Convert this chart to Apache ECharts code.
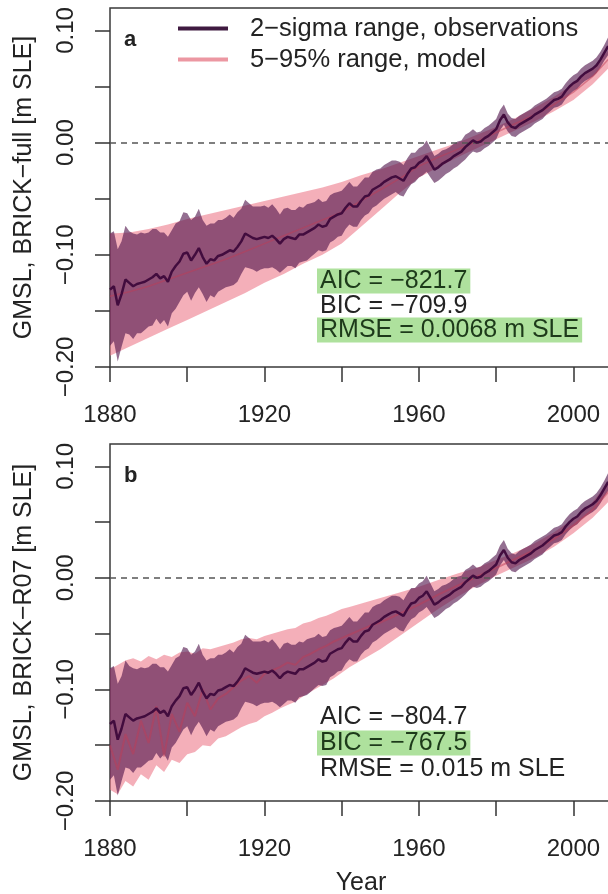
<!DOCTYPE html>
<html>
<head>
<meta charset="utf-8">
<title>GMSL hindcasts, BRICK-full and BRICK-R07</title>
<script src="https://cdn.jsdelivr.net/npm/echarts@6/dist/echarts.min.js"></script>
<style>
  html, body { margin: 0; padding: 0; background: #fff; }
  #chart { width: 608px; height: 894px; }
</style>
</head>
<body>
<div id="chart"></div>
<script>
// observations, annual 1880-2009 [m SLE]
const startYear = 1880;
const obsMean = [
  -0.131, -0.128, -0.145, -0.135, -0.122, -0.125, -0.128, -0.126, -0.125, -0.124,
  -0.122, -0.120, -0.117, -0.121, -0.119, -0.124, -0.115, -0.110, -0.106, -0.099,
  -0.098, -0.105, -0.100, -0.094, -0.102, -0.108, -0.104, -0.105, -0.101, -0.100,
  -0.098, -0.096, -0.097, -0.093, -0.088, -0.081, -0.083, -0.085, -0.086, -0.085,
  -0.084, -0.085, -0.083, -0.086, -0.090, -0.086, -0.084, -0.085, -0.086, -0.082,
  -0.082, -0.080, -0.078, -0.076, -0.073, -0.075, -0.074, -0.068, -0.066, -0.064,
  -0.063, -0.058, -0.054, -0.057, -0.057, -0.052, -0.048, -0.047, -0.042, -0.040,
  -0.038, -0.035, -0.033, -0.031, -0.030, -0.032, -0.034, -0.028, -0.023, -0.022,
  -0.018, -0.016, -0.012, -0.018, -0.024, -0.022, -0.019, -0.017, -0.015, -0.012,
  -0.010, -0.008, -0.004, -0.001, 0.002, 0.000, 0.001, 0.004, 0.006, 0.009,
  0.012, 0.020, 0.025, 0.018, 0.014, 0.013, 0.016, 0.018, 0.020, 0.022,
  0.025, 0.027, 0.029, 0.032, 0.035, 0.038, 0.039, 0.041, 0.046, 0.050,
  0.053, 0.055, 0.059, 0.062, 0.064, 0.066, 0.069, 0.074, 0.080, 0.086
];
// 2-sigma half width of the observations
const obsErr = [
  0.050, 0.049, 0.050, 0.047, 0.048, 0.046, 0.047, 0.044, 0.045, 0.043,
  0.042, 0.043, 0.040, 0.041, 0.039, 0.040, 0.037, 0.038, 0.036, 0.037,
  0.035, 0.036, 0.034, 0.035, 0.033, 0.034, 0.032, 0.033, 0.032, 0.031,
  0.031, 0.032, 0.030, 0.031, 0.029, 0.030, 0.029, 0.028, 0.029, 0.028,
  0.028, 0.027, 0.028, 0.027, 0.026, 0.027, 0.026, 0.025, 0.026, 0.025,
  0.024, 0.025, 0.024, 0.023, 0.023, 0.022, 0.022, 0.021, 0.021, 0.020,
  0.020, 0.019, 0.019, 0.018, 0.018, 0.017, 0.017, 0.016, 0.016, 0.016,
  0.015, 0.015, 0.015, 0.015, 0.014, 0.015, 0.014, 0.014, 0.014, 0.013,
  0.013, 0.013, 0.014, 0.013, 0.012, 0.012, 0.012, 0.011, 0.011, 0.011,
  0.011, 0.010, 0.011, 0.010, 0.010, 0.009, 0.009, 0.009, 0.009, 0.009,
  0.009, 0.009, 0.009, 0.008, 0.008, 0.008, 0.008, 0.008, 0.008, 0.008,
  0.008, 0.008, 0.008, 0.007, 0.007, 0.007, 0.007, 0.007, 0.007, 0.007,
  0.007, 0.007, 0.007, 0.007, 0.007, 0.007, 0.007, 0.007, 0.007, 0.008
];

// BRICK-full model, 5-95% range and median
const modelAYears = [1880, 1885, 1890, 1895, 1900, 1905, 1910, 1915, 1920, 1925, 1930, 1935, 1940,
  1945, 1950, 1955, 1960, 1965, 1970, 1975, 1980, 1985, 1990, 1995, 2000, 2005, 2009];
const modelALo = [-0.190, -0.182, -0.174, -0.166, -0.158, -0.150, -0.142, -0.134, -0.125, -0.117, -0.108, -0.100, -0.090,
  -0.075, -0.060, -0.045, -0.031, -0.022, -0.013, -0.005, 0.003, 0.011, 0.019, 0.028, 0.038, 0.052, 0.066];
const modelAHi = [-0.081, -0.080, -0.077, -0.073, -0.068, -0.064, -0.060, -0.056, -0.052, -0.048, -0.044, -0.040, -0.035,
  -0.029, -0.024, -0.018, -0.012, -0.006, 0.000, 0.007, 0.014, 0.022, 0.031, 0.041, 0.052, 0.066, 0.082];
const modelAMed = [-0.137, -0.133, -0.128, -0.122, -0.116, -0.110, -0.104, -0.097, -0.090, -0.083, -0.076, -0.069, -0.062,
  -0.052, -0.042, -0.032, -0.021, -0.013, -0.006, 0.001, 0.009, 0.017, 0.025, 0.034, 0.045, 0.059, 0.074];

// BRICK-R07 model, 5-95% range and median
const modelBYears = [1880, 1882, 1884, 1886, 1888, 1890, 1892, 1894, 1896, 1898, 1900, 1902, 1904, 1906, 1908,
  1910, 1912, 1914, 1916, 1918, 1920, 1922, 1924, 1926, 1928, 1930, 1932, 1934, 1936, 1938, 1940, 1942, 1944,
  1946, 1948, 1950, 1955, 1960, 1965, 1970, 1975, 1980, 1985, 1990, 1995, 2000, 2005, 2009];
const modelBLo = [-0.190, -0.194, -0.182, -0.187, -0.176, -0.181, -0.168, -0.174, -0.163, -0.166, -0.158, -0.156, -0.150, -0.151, -0.144,
  -0.142, -0.138, -0.134, -0.131, -0.129, -0.124, -0.121, -0.117, -0.114, -0.111, -0.106, -0.102, -0.098, -0.094, -0.090, -0.085, -0.080, -0.076,
  -0.072, -0.068, -0.064, -0.052, -0.040, -0.028, -0.017, -0.007, 0.002, 0.010, 0.018, 0.028, 0.040, 0.054, 0.068];
const modelBHi = [-0.082, -0.078, -0.074, -0.072, -0.075, -0.070, -0.073, -0.069, -0.071, -0.067, -0.066, -0.068, -0.063, -0.064, -0.062,
  -0.060, -0.058, -0.055, -0.054, -0.055, -0.052, -0.050, -0.048, -0.046, -0.045, -0.041, -0.039, -0.036, -0.034, -0.031, -0.028, -0.026, -0.024,
  -0.022, -0.020, -0.018, -0.013, -0.008, -0.002, 0.004, 0.009, 0.016, 0.023, 0.031, 0.041, 0.053, 0.068, 0.086];
const modelBMed = [-0.150, -0.172, -0.140, -0.158, -0.128, -0.148, -0.115, -0.160, -0.122, -0.138, -0.112, -0.124, -0.100, -0.118, -0.108,
  -0.104, -0.098, -0.092, -0.088, -0.094, -0.086, -0.083, -0.080, -0.076, -0.078, -0.071, -0.068, -0.064, -0.061, -0.057, -0.054, -0.051, -0.048,
  -0.045, -0.042, -0.040, -0.032, -0.024, -0.015, -0.007, 0.001, 0.009, 0.017, 0.025, 0.035, 0.047, 0.061, 0.077];

const xTicks = [1880, 1900, 1920, 1940, 1960, 1980, 2000];
const xLabels = [1880, 1920, 1960, 2000];
const yTicks = [-0.20, -0.15, -0.10, -0.05, 0.00, 0.05, 0.10];
const yLabels = [-0.20, -0.10, 0.00, 0.10];

const statsA = ['AIC = −821.7', 'BIC = −709.9', 'RMSE = 0.0068 m SLE'];
const bestA = [true, false, true];
const statsB = ['AIC = −804.7', 'BIC = −767.5', 'RMSE = 0.015 m SLE'];
const bestB = [false, true, false];

const obsName = '2−sigma range, observations';
const modelName = '5−95% range, model';

const font = "'Liberation Sans', Arial, Helvetica, sans-serif";
const ink = '#232323';
const obsLineColor = '#420c3e';
const obsBandColor = 'rgba(82, 22, 78, 0.62)';
const modelBandColor = 'rgba(236, 118, 134, 0.58)';
const modelLineColor = 'rgba(190, 60, 85, 0.5)';

const obsYears = obsMean.map((v, i) => startYear + i);
const obsLo = obsMean.map((v, i) => v - obsErr[i]);
const obsHi = obsMean.map((v, i) => v + obsErr[i]);

function fmtY(v) {
  return (v < 0 ? '−' : '') + Math.abs(v).toFixed(2);
}

function band(name, idx, years, lo, hi, color, z) {
  return {
    name: name,
    type: 'custom',
    xAxisIndex: idx,
    yAxisIndex: idx,
    z: z,
    silent: true,
    itemStyle: { color: color },
    data: years.map((y, i) => [y, lo[i], hi[i]]),
    encode: { x: 0, y: [1, 2] },
    renderItem: function (params, api) {
      if (params.dataIndex !== 0) return;
      const pts = [];
      for (let i = 0; i < years.length; i++) pts.push(api.coord([years[i], hi[i]]));
      for (let i = years.length - 1; i >= 0; i--) pts.push(api.coord([years[i], lo[i]]));
      return { type: 'polygon', shape: { points: pts }, style: { fill: color } };
    }
  };
}

function line(name, idx, years, vals, color, width, z) {
  return {
    name: name,
    type: 'line',
    xAxisIndex: idx,
    yAxisIndex: idx,
    z: z,
    silent: true,
    symbol: 'none',
    data: years.map((y, i) => [y, vals[i]]),
    lineStyle: { color: color, width: width },
    itemStyle: { color: color }
  };
}

function zeroLine(idx) {
  return {
    type: 'line',
    xAxisIndex: idx,
    yAxisIndex: idx,
    z: 1,
    data: [],
    markLine: {
      silent: true,
      symbol: 'none',
      animation: false,
      label: { show: false },
      lineStyle: { color: '#555', width: 1.5, type: [6, 5] },
      data: [{ yAxis: 0 }]
    }
  };
}

function xAxis(idx, withName) {
  return {
    type: 'value',
    gridIndex: idx,
    min: 1880,
    max: 2010,
    interval: 20,
    splitLine: { show: false },
    axisLine: { show: false, onZero: false },
    axisTick: { show: true, inside: false, customValues: xTicks, length: 15, lineStyle: { color: '#333', width: 1.5 } },
    axisLabel: { customValues: xLabels, margin: 36, fontSize: 24, fontFamily: font, color: ink, formatter: v => String(v) },
    name: withName ? 'Year' : '',
    nameLocation: 'middle',
    nameGap: 70,
    nameTextStyle: { fontSize: 25, fontFamily: font, color: ink }
  };
}

function yAxis(idx, title) {
  return {
    type: 'value',
    gridIndex: idx,
    min: -0.2,
    max: 0.12,
    interval: 0.05,
    splitLine: { show: false },
    axisLine: { show: false, onZero: false },
    axisTick: { show: true, inside: false, customValues: yTicks, length: 15, lineStyle: { color: '#333', width: 1.5 } },
    axisLabel: { customValues: yLabels, rotate: 90, margin: 32, fontSize: 24, fontFamily: font, color: ink, formatter: fmtY },
    name: title,
    nameLocation: 'middle',
    nameRotate: 90,
    nameGap: 73,
    nameTextStyle: { fontSize: 25, fontFamily: font, color: ink }
  };
}

function statTitles(lines, best, tops) {
  return lines.map((t, i) => ({
    text: t,
    left: 317,
    top: tops[i],
    padding: [0, 3, 0, 3],
    backgroundColor: best[i] ? 'rgba(160, 220, 140, 0.85)' : 'transparent',
    textStyle: { fontSize: 25, fontWeight: 'normal', fontFamily: font, lineHeight: 20, color: best[i] ? '#1d3a1a' : ink }
  }));
}

const chart = echarts.init(document.getElementById('chart'), null, { renderer: 'canvas' });

chart.setOption({
  animation: false,
  backgroundColor: '#fff',
  grid: [
    { left: 110, top: 8, width: 502, height: 359, show: true, borderColor: '#3a3a3a', borderWidth: 1.5, backgroundColor: 'transparent', outerBoundsMode: 'none' },
    { left: 110, top: 444, width: 502, height: 357, show: true, borderColor: '#3a3a3a', borderWidth: 1.5, backgroundColor: 'transparent', outerBoundsMode: 'none' }
  ],
  xAxis: [xAxis(0, false), xAxis(1, true)],
  yAxis: [yAxis(0, 'GMSL, BRICK−full [m SLE]'), yAxis(1, 'GMSL, BRICK−R07 [m SLE]')],
  title: [
    { text: 'a', left: 124, top: 29, padding: 0, textStyle: { fontSize: 22, fontWeight: 'bold', fontFamily: font, color: ink, lineHeight: 22 } },
    { text: 'b', left: 124, top: 465, padding: 0, textStyle: { fontSize: 22, fontWeight: 'bold', fontFamily: font, color: ink, lineHeight: 22 } }
  ].concat(statTitles(statsA, bestA, [271, 296, 320]), statTitles(statsB, bestB, [707, 733, 759])),
  legend: {
    left: 178,
    top: 13,
    orient: 'vertical',
    itemWidth: 50,
    itemHeight: 4,
    itemGap: 0,
    icon: 'rect',
    selectedMode: false,
    padding: 0,
    textStyle: { fontSize: 25.5, fontFamily: font, color: ink, lineHeight: 31, padding: [0, 0, 0, 17] },
    data: [
      { name: obsName, itemStyle: { color: '#3f1a40' } },
      { name: modelName, itemStyle: { color: '#ec97a2' } }
    ]
  },
  series: [
    zeroLine(0),
    band(modelName, 0, modelAYears, modelALo, modelAHi, modelBandColor, 2),
    band('obs band a', 0, obsYears, obsLo, obsHi, obsBandColor, 3),
    line('model median a', 0, modelAYears, modelAMed, modelLineColor, 1.5, 4),
    line(obsName, 0, obsYears, obsMean, obsLineColor, 2.5, 5),

    zeroLine(1),
    band('model band b', 1, modelBYears, modelBLo, modelBHi, modelBandColor, 2),
    band('obs band b', 1, obsYears, obsLo, obsHi, obsBandColor, 3),
    line('model median b', 1, modelBYears, modelBMed, modelLineColor, 2, 4),
    line('obs mean b', 1, obsYears, obsMean, obsLineColor, 2.5, 5)
  ]
});
</script>
</body>
</html>
